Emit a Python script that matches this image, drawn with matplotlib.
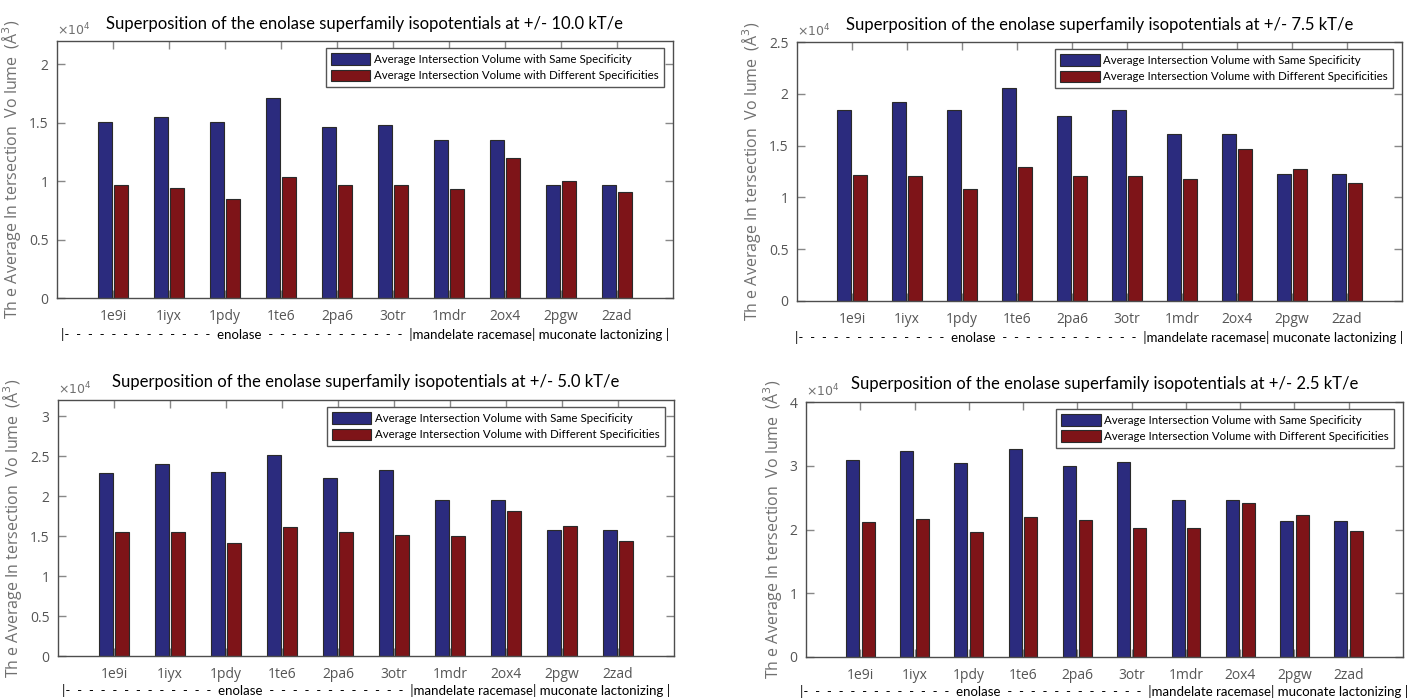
import numpy as np
import matplotlib
matplotlib.use('Agg')
import matplotlib.pyplot as plt
from matplotlib.ticker import FuncFormatter

# proteins on the x axis
proteins = ['1e9i', '1iyx', '1pdy', '1te6', '2pa6', '3otr', '1mdr', '2ox4', '2pgw', '2zad']

# average intersection volumes (A^3) for each isopotential level
same_100 = [15100, 15500, 15100, 17100, 14600, 14800, 13500, 13500, 9700, 9700]
diff_100 = [9700, 9450, 8450, 10400, 9650, 9700, 9300, 12000, 10000, 9100]

same_75 = [18450, 19250, 18450, 20550, 17900, 18400, 16150, 16150, 12250, 12250]
diff_75 = [12150, 12050, 10850, 12900, 12100, 12100, 11750, 14700, 12700, 11350]

same_50 = [22900, 24000, 23000, 25100, 22200, 23200, 19450, 19450, 15700, 15700]
diff_50 = [15450, 15450, 14150, 16100, 15450, 15100, 15000, 18150, 16200, 14400]

same_25 = [30950, 32350, 30450, 32700, 30000, 30650, 24650, 24650, 21400, 21400]
diff_25 = [21250, 21650, 19600, 21950, 21550, 20250, 20300, 24200, 22250, 19700]

potentials = ['10.0', '7.5', '5.0', '2.5']
ymax = [2.2e4, 2.5e4, 3.2e4, 4e4]
ystep = [0.5e4, 0.5e4, 0.5e4, 1e4]

legend_labels = ['Average Intersection Volume with Same Specificity',
                 'Average Intersection Volume with Different Specificities']
group_line = ('|' + '-  ' * 13 + 'enolase  ' + '-  ' * 12 +
              '|mandelate racemase| muconate lactonizing |')
ylabel = 'Th e Average In tersection  Vo lume  (\u00c5$^{3}$)'

BLUE = '#2b2b7e'
RED = '#7e1418'
GRAY = '#555555'
NARROW = ['Lato', 'DejaVu Sans']
PLAIN = ['Open Sans', 'DejaVu Sans']

W, H = 1408, 698
# axes boxes in pixels: left, right, top, bottom
boxes = [(57, 673, 41, 298), (797, 1402, 42, 301),
         (58, 674, 400, 656), (806, 1403, 402, 657)]


def draw_panel(ax, same, diff, pot, top, step, xpad):
    x = np.arange(1, len(proteins) + 1)
    ax.bar(x - 0.145, same, 0.24, color=BLUE, edgecolor='#2a2a2a', linewidth=0.8,
           label=legend_labels[0], zorder=2)
    ax.bar(x + 0.145, diff, 0.24, color=RED, edgecolor='#2a2a2a', linewidth=0.8,
           label=legend_labels[1], zorder=2)
    ax.set_xlim(0, len(proteins) + 1)
    ax.set_ylim(0, top)
    ax.set_xticks(x)
    ax.set_xticklabels(proteins, family=PLAIN, fontsize=10, color=GRAY)
    ax.set_yticks(np.arange(0, top + 1, step))
    ax.yaxis.set_major_formatter(FuncFormatter(lambda v, p: '%g' % (v / 1e4)))
    for t in ax.get_yticklabels():
        t.set_family(PLAIN)
    ax.tick_params(direction='in', length=6, color='#888888', labelcolor=GRAY,
                   labelsize=10, top=True, right=True, width=1)
    ax.tick_params(axis='x', pad=8)
    ax.tick_params(axis='y', pad=6)
    for s in ax.spines.values():
        s.set_color('#4d4d4d')
        s.set_linewidth(1)
    ax.set_title('Superposition of the enolase superfamily isopotentials at +/- %s kT/e' % pot,
                 family=NARROW, fontsize=12, pad=9)
    ax.text(0, 1.012, r'$\times10^{4}$', transform=ax.transAxes, fontsize=9,
            color='#707070', ha='left', va='bottom')
    ax.set_ylabel(ylabel, family=PLAIN, fontsize=11.5, color='#707070', labelpad=4)
    ax.set_xlabel(group_line, family=NARROW, fontsize=9.5, labelpad=xpad)
    ax.legend(loc='upper right', bbox_to_anchor=(0.985, 0.973), prop={'family': NARROW, 'size': 8.3},
              fancybox=False, edgecolor='#555555', framealpha=1, handlelength=3.4,
              handleheight=1.2, labelspacing=0.4, borderpad=0.45, handletextpad=0.3,
              borderaxespad=0)


fig = plt.figure(figsize=(W / 100, H / 100), dpi=100)
series = [(same_100, diff_100), (same_75, diff_75), (same_50, diff_50), (same_25, diff_25)]
for i, (l, r, t, b) in enumerate(boxes):
    ax = fig.add_axes([l / W, 1 - b / H, (r - l) / W, (b - t) / H])
    draw_panel(ax, series[i][0], series[i][1], potentials[i], ymax[i], ystep[i],
               3 if i < 2 else 1.5)

fig.savefig('out.png', dpi=100)
